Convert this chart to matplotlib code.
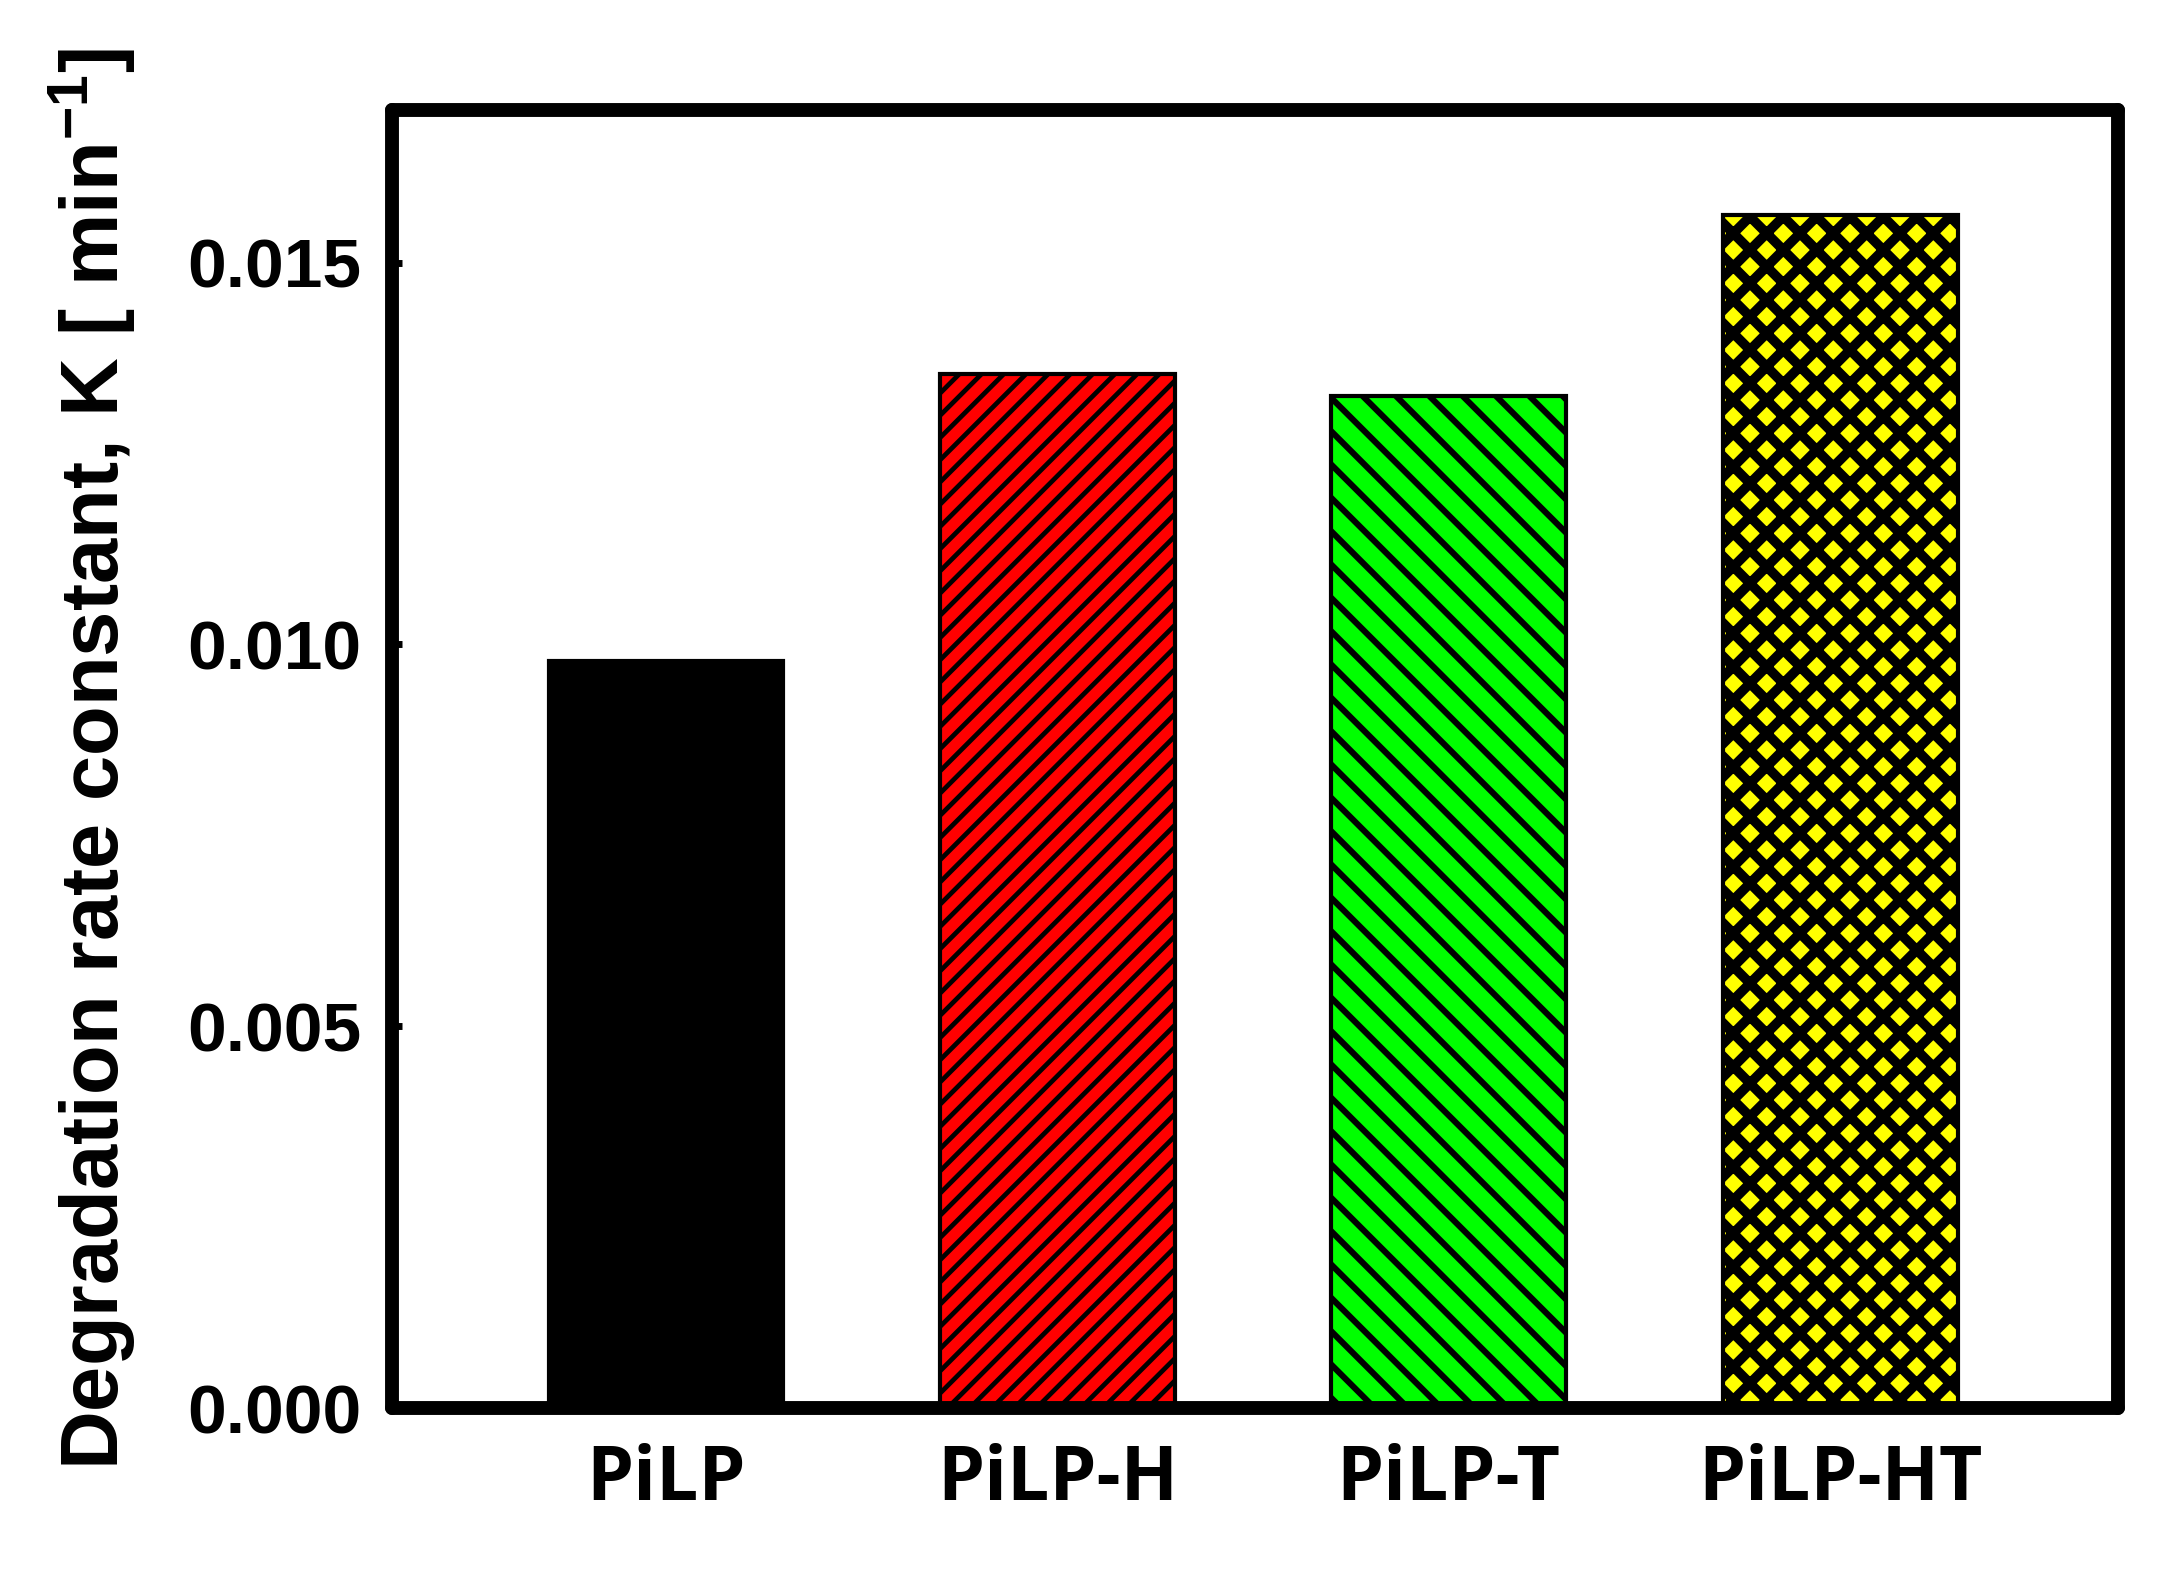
#!/usr/bin/env python3
# coding: UTF-8

import matplotlib
matplotlib.use("Agg")
import matplotlib.pyplot as plt

# Data
samples = ["PiLP", "PiLP-H", "PiLP-T", "PiLP-HT"]
rate_k = [0.00978, 0.01354, 0.01325, 0.01562]
bar_colors = ["#000000", "#ff0000", "#00ff00", "#ffff00"]
hatches = ["", "///", "\\\\", "xx"]
hatch_widths = [1.0, 1.7, 2.2, 3.5]
y_ticks = [0.000, 0.005, 0.010, 0.015]

plt.rcParams["font.family"] = ["Liberation Sans", "DejaVu Sans"]
plt.rcParams["font.weight"] = "bold"
plt.rcParams["mathtext.fontset"] = "custom"
plt.rcParams["mathtext.rm"] = "Liberation Sans:bold"
plt.rcParams["mathtext.bf"] = "Liberation Sans:bold"
plt.rcParams["hatch.color"] = "black"


# hatch line width is a global setting, so wrap each bar's draw
def set_hatch_lw(patch, lw):
    if hasattr(patch, "set_hatch_linewidth"):
        patch.set_hatch_linewidth(lw)
    orig = patch.draw

    def draw(renderer):
        with plt.rc_context({"hatch.linewidth": lw}):
            orig(renderer)
    patch.draw = draw


DPI = 200
fig = plt.figure(figsize=(2169 / DPI, 1574 / DPI), dpi=DPI)
ax = fig.add_axes([392 / 2169, 166 / 1574, (2118 - 392) / 2169, (1464 - 166) / 1574])

x = list(range(len(samples)))
for i in x:
    bars = ax.bar(x[i], rate_k[i], width=0.6, color=bar_colors[i],
                  edgecolor="black", linewidth=1.5, hatch=hatches[i] or None,
                  zorder=2)
    for b in bars:
        set_hatch_lw(b, hatch_widths[i])

ax.set_xlim(-0.7, 3.71)
ax.set_ylim(0, 0.017)
ax.set_yticks(y_ticks)
ax.set_yticklabels(["%.3f" % v for v in y_ticks])
ax.set_xticks(x)
ax.set_xticklabels(samples, fontfamily=["Open Sans", "DejaVu Sans"],
                   fontweight="bold", fontsize=27)

for s in ax.spines.values():
    s.set_linewidth(5)
    s.set_capstyle("round")

ax.tick_params(axis="y", direction="in", length=3.6, width=2.5,
               labelsize=25, pad=11, right=False)
ax.tick_params(axis="x", length=0, pad=12.5)

ax.set_ylabel("Degradation rate constant, K [ min$^{\\mathbf{-1}}$]",
              fontsize=29.3, fontweight="bold")
ax.yaxis.set_label_coords(-0.147, 0.5)

plt.savefig("out.png", dpi=DPI)
